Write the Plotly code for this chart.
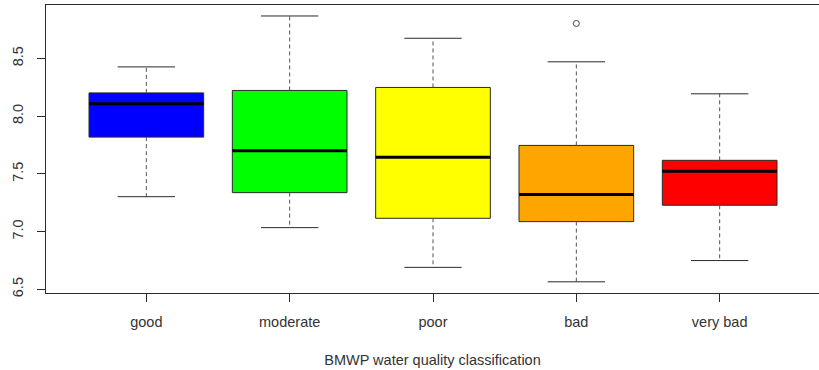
import plotly.graph_objects as go

categories = ["good", "moderate", "poor", "bad", "very bad"]
lower_whisker = [7.302, 7.034, 6.690, 6.565, 6.749]
q1_values = [7.818, 7.337, 7.115, 7.086, 7.228]
medians = [8.106, 7.700, 7.643, 7.320, 7.522]
q3_values = [8.201, 8.222, 8.248, 7.746, 7.617]
upper_whisker = [8.426, 8.867, 8.674, 8.470, 8.193]
outlier_cat = ["bad"]
outlier_values = [8.802]
y_ticks = [6.5, 7.0, 7.5, 8.0, 8.5]
y_tick_labels = ["6.5", "7.0", "7.5", "8.0", "8.5"]
colors = ["#0000FF", "#00FF00", "#FFFF00", "#FFA500", "#FF0000"]

BOX_W = 0.8
STAPLE_HALF = 0.2
EDGE = "#2a2a2a"
WHISK = "#555555"

fig = go.Figure()
pos = list(range(1, len(categories) + 1))

# Whiskers (dashed)
wx, wy = [], []
for i, p in enumerate(pos):
    wx += [p, p, None, p, p, None]
    wy += [q3_values[i], upper_whisker[i], None, q1_values[i], lower_whisker[i], None]
fig.add_trace(go.Scatter(x=wx, y=wy, mode="lines",
                         line=dict(color=WHISK, width=1, dash="4px,3px"),
                         hoverinfo="skip"))

# Staples
sx, sy = [], []
for i, p in enumerate(pos):
    sx += [p - STAPLE_HALF, p + STAPLE_HALF, None, p - STAPLE_HALF, p + STAPLE_HALF, None]
    sy += [upper_whisker[i], upper_whisker[i], None, lower_whisker[i], lower_whisker[i], None]
fig.add_trace(go.Scatter(x=sx, y=sy, mode="lines",
                         line=dict(color=EDGE, width=1), hoverinfo="skip"))

# Boxes
for i, p in enumerate(pos):
    fig.add_trace(go.Box(
        x=[p], q1=[q1_values[i]], median=[medians[i]], q3=[q3_values[i]],
        lowerfence=[q1_values[i]], upperfence=[q3_values[i]],
        width=BOX_W, fillcolor=colors[i], line=dict(color=EDGE, width=1),
        whiskerwidth=0, boxpoints=False, name=categories[i]))

# Medians (thick)
mx, my = [], []
for i, p in enumerate(pos):
    mx += [p - BOX_W / 2, p + BOX_W / 2, None]
    my += [medians[i], medians[i], None]
fig.add_trace(go.Scatter(x=mx, y=my, mode="lines",
                         line=dict(color="black", width=3), hoverinfo="skip"))

# Outliers
fig.add_trace(go.Scatter(
    x=[pos[categories.index(c)] for c in outlier_cat], y=outlier_values,
    mode="markers",
    marker=dict(symbol="circle-open", size=6, color="#444444", line=dict(width=1)),
    hoverinfo="skip"))

fig.update_layout(
    width=819, height=370,
    margin=dict(l=46, r=0, t=5, b=77),
    plot_bgcolor="white", paper_bgcolor="white",
    showlegend=False,
    font=dict(family="Liberation Sans, Arial, sans-serif", size=14.5, color="#333333"),
    xaxis=dict(
        range=[0.3, 5.693], tickvals=pos, ticktext=categories,
        ticks="outside", ticklen=8, tickcolor=EDGE, ticklabelstandoff=8,
        showline=True, linecolor=EDGE, linewidth=1, mirror=True,
        showgrid=False, zeroline=False, automargin=False,
        title=dict(text="BMWP water quality classification", standoff=25,
                   font=dict(size=14.5)),
    ),
    yaxis=dict(
        range=[6.468, 8.962], tickvals=y_ticks, ticktext=y_tick_labels,
        tickangle=-90, ticks="outside", ticklen=8, tickcolor=EDGE,
        ticklabelstandoff=8, automargin=False,
        showline=True, linecolor=EDGE, linewidth=1, mirror=False,
        showgrid=False, zeroline=False,
    ),
)

fig.write_html("out.html", config={"displayModeBar": False},
               post_script="document.body.style.margin='0';")
